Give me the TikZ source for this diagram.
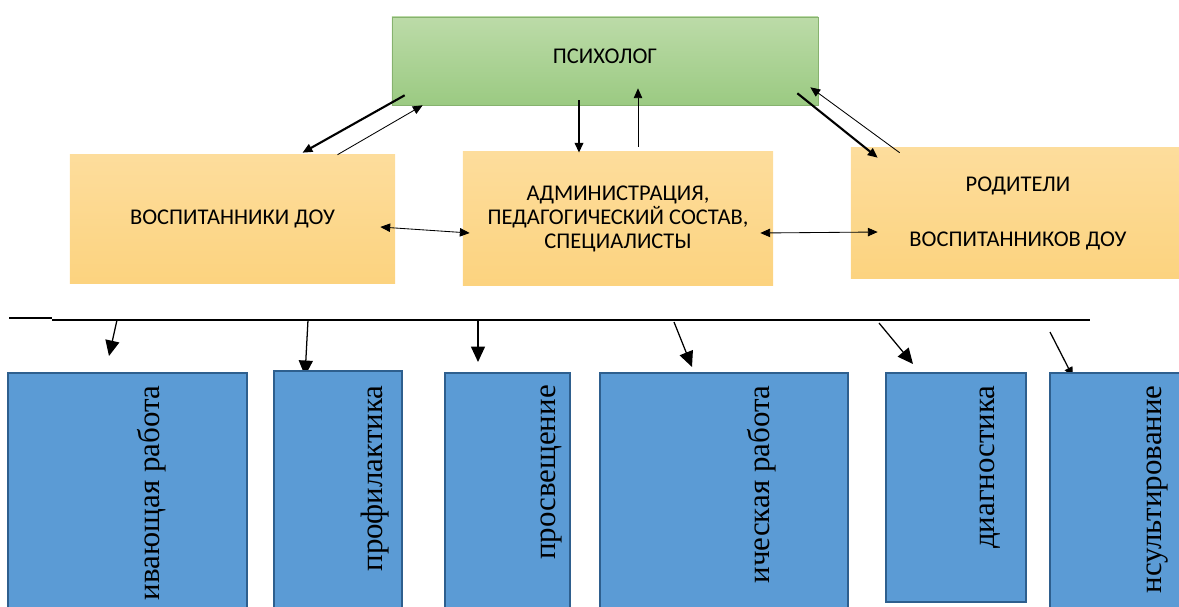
\documentclass[tikz,border=0pt]{standalone}
\usepackage{fontspec}
\setmainfont{Liberation Serif}
\newfontfamily\boxfont{Carlito}
\usetikzlibrary{arrows.meta,calc,backgrounds}
\definecolor{greentop}{HTML}{BCDBA8}
\definecolor{greenbot}{HTML}{9BCA82}
\definecolor{greenedge}{HTML}{86B26E}
\definecolor{yellowtop}{HTML}{FDDD9C}
\definecolor{yellowbot}{HTML}{FCD37F}
\definecolor{bluefill}{HTML}{5B9BD5}
\definecolor{blueedge}{HTML}{2E5F8E}

\begin{document}
\begin{tikzpicture}[x=0.025cm,y=-0.025cm,>={Triangle[length=7pt,width=6pt]},
    greenbox/.style={draw=greenedge,top color=greentop,bottom color=greenbot,
      minimum width=10.65cm,minimum height=2.2cm,inner sep=0,
      font=\boxfont\fontsize{16}{18}\selectfont},
    yellowbox/.style={top color=yellowtop,bottom color=yellowbot,inner sep=0,
      align=center,font=\boxfont\fontsize{16}{20}\selectfont},
    bluebox/.style={draw=blueedge,fill=bluefill,line width=1.4pt,inner sep=0},
    vtext/.style={rotate=90,anchor=east,inner sep=0,font=\fontsize{22}{24}\selectfont},
    thick arrow/.style={line width=1.5pt},
    thin arrow/.style={line width=0.6pt},
    down arrow/.style={line width=0.9pt,-{Triangle[length=11pt,width=10pt]}}]

  \useasboundingbox (0,0) rectangle (1179,606);
  \clip (0,0) rectangle (1179,606);

  \node[greenbox] (psy) at (605,61) {\raisebox{0.25cm}{ПСИХОЛОГ}};
  \node[yellowbox,minimum width=8.125cm,minimum height=3.2cm] (kids) at (232.5,219)
    {ВОСПИТАННИКИ ДОУ};
  \node[yellowbox,minimum width=7.75cm,minimum height=3.325cm] (staff) at (618,218.5)
    {\raisebox{0.2cm}{\begin{tabular}{@{}c@{}}АДМИНИСТРАЦИЯ,\\[-3pt]
      ПЕДАГОГИЧЕСКИЙ СОСТАВ,\\[-3pt] СПЕЦИАЛИСТЫ\end{tabular}}};
  \node[yellowbox,minimum width=8.35cm,minimum height=3.25cm] (parents) at (1018,213)
    {\raisebox{0.2cm}{\begin{tabular}{@{}c@{}}РОДИТЕЛИ\\[19pt]
      ВОСПИТАННИКОВ ДОУ\end{tabular}}};

  \draw[->,thick arrow] ($(psy.south west)+(13,-10)$) -- ($(kids.north)+(70,-2)$);
  \draw[->,thin arrow] ($(kids.north)+(105,0)$) -- ($(psy.south west)+(31,0)$);
  \draw[->,thick arrow] ($(psy.south)+(-26,-5)$) -- ($(staff.north)+(-39,1)$);
  \draw[->,thin arrow] ($(staff.north)+(20,-5)$) -- ($(psy.south)+(33,-17)$);
  \draw[->,thick arrow] ($(psy.south east)+(-21,-12)$) -- ($(parents.north west)+(27,10)$);
  \draw[->,thin arrow] ($(parents.north west)+(49,5)$) -- ($(psy.south east)+(-8,-18)$);
  \draw[<->,thin arrow] ($(kids.east)+(-15,8)$) -- ($(staff.west)+(7,14.5)$);
  \draw[<->,thin arrow] ($(staff.east)+(-13,14.5)$) -- ($(parents.west)+(27,19)$);

  \draw[line width=1.6pt] (9,318) -- (52,318);
  \coordinate (lineL) at (52,320);
  \coordinate (lineR) at (1090,320);
  \draw[line width=1pt] (lineL) -- (lineR);

  \node[bluebox,minimum width=5.975cm,minimum height=6.175cm] (b1) at (127.5,496.5) {};
  \node[bluebox,minimum width=3.2cm,minimum height=6.225cm] (b2) at (338,495.5) {};
  \node[bluebox,minimum width=3.125cm,minimum height=6.175cm] (b3) at (507.5,496.5) {};
  \node[bluebox,minimum width=6.2cm,minimum height=6.175cm] (b4) at (724,496.5) {};
  \node[bluebox,minimum width=3.5cm,minimum height=5.725cm] (b5) at (956,487.5) {};
  \node[bluebox,minimum width=3.75cm,minimum height=6.175cm] (b6) at (1125,496.5) {};

  \node[vtext] (t1) at (152,385) {ивающая работа};
  \node[vtext] (t2) at (375,385) {профилактика};
  \node[vtext] (t3) at (551,385) {просвещение};
  \node[vtext] (t4) at (762,385) {ическая работа};
  \node[vtext] (t5) at (990,385) {диагностика};
  \node[vtext] (t6) at (1158,385) {нсультирование};

  \coordinate (d1) at (117,320);
  \coordinate (d2) at (308,320);
  \coordinate (d3) at (478,320);
  \coordinate (d4) at (674,322);
  \coordinate (d5) at (879,323);
  \coordinate (d6) at (1050,332);
  \begin{scope}[on background layer]
    \draw[down arrow] (d1) -- ($(b1.north)+(-18.5,-16)$);
    \draw[down arrow] (d2) -- ($(b2.north)+(-33,6)$);
    \draw[down arrow] (d3) -- ($(b3.north)+(-29.5,-10)$);
    \draw[down arrow] (d4) -- ($(b4.north)+(-32,-5)$);
    \draw[down arrow] (d5) -- ($(b5.north)+(-43,-8)$);
    \draw[line width=0.9pt,-{Triangle[length=7pt,width=6pt]}] (d6) -- ($(b6.north)+(-52,5)$);
  \end{scope}
\end{tikzpicture}
\end{document}
